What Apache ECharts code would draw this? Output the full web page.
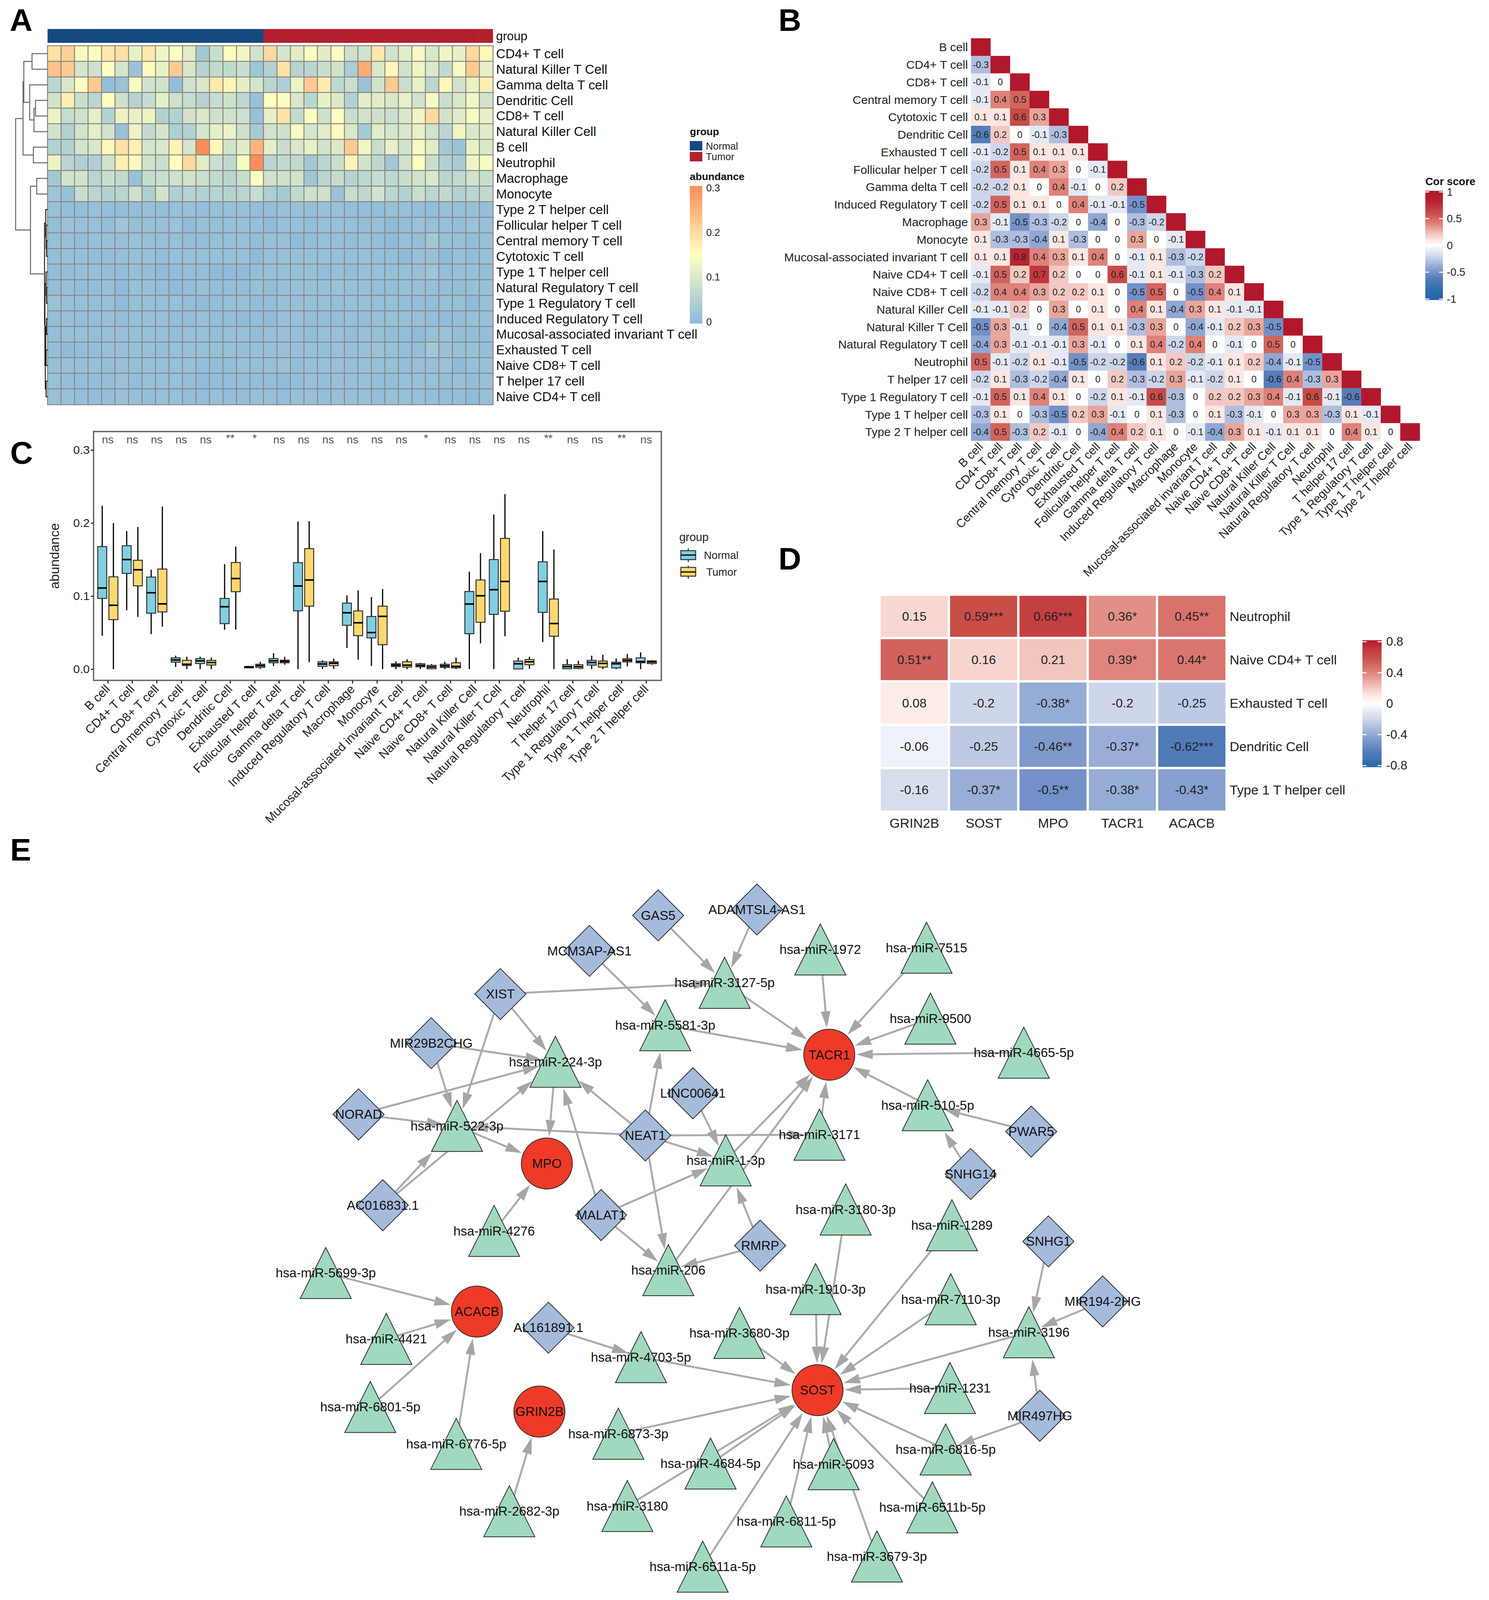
<!DOCTYPE html>
<html><head><meta charset="utf-8">
<style>html,body{margin:0;padding:0;background:#fff;overflow:hidden}#c{width:3812px}</style>
<script src="https://cdn.jsdelivr.net/npm/echarts@6/dist/echarts.min.js"></script>
</head><body><div id="c"></div>
<script>
/* ---------- Panel A data ---------- */
const rowsA = ['CD4+ T cell','Natural Killer T Cell','Gamma delta T cell','Dendritic Cell','CD8+ T cell','Natural Killer Cell','B cell','Neutrophil','Macrophage','Monocyte','Type 2 T helper cell','Follicular helper T cell','Central memory T cell','Cytotoxic T cell','Type 1 T helper cell','Natural Regulatory T cell','Type 1 Regulatory T cell','Induced Regulatory T cell','Mucosal-associated invariant T cell','Exhausted T cell','Naive CD8+ T cell','T helper 17 cell','Naive CD4+ T cell'];
const groupA = [0,0,0,0,0,0,0,0,0,0,0,0,0,0,0,0,1,1,1,1,1,1,1,1,1,1,1,1,1,1,1,1,1];
const abundanceTop = [
[.19,.21,.14,.145,.18,.19,.12,.18,.13,.145,.11,.03,.08,.145,.13,.09,.2,.095,.11,.145,.11,.145,.085,.09,.18,.09,.11,.14,.1,.13,.12,.2,.16],
[.23,.22,.095,.085,.15,.095,.02,.155,.12,.22,.1,.055,.07,.07,.08,.025,.05,.19,.055,.06,.08,.09,.04,.26,.1,.16,.09,.13,.1,.07,.14,.22,.12],
[.06,.1,.15,.22,.01,.02,.14,.09,.09,.01,.09,.1,.18,.165,.115,.095,.06,.045,.125,.22,.175,.065,.08,.02,.09,.22,.08,.12,.06,.16,.09,.12,.17],
[.09,.17,.08,.06,.15,.085,.055,.075,.115,.085,.075,.055,.075,.085,.065,.015,.15,.145,.1,.06,.12,.105,.05,.115,.11,.1,.12,.09,.14,.08,.1,.13,.09],
[.125,.075,.085,.115,.05,.125,.12,.125,.05,.05,.09,.1,.085,.09,.085,.015,.12,.19,.07,.15,.085,.15,.08,.09,.085,.08,.1,.13,.2,.09,.11,.14,.12],
[.09,.05,.09,.115,.09,.015,.125,.07,.095,.045,.05,.095,.115,.125,.085,.035,.09,.085,.14,.095,.11,.145,.1,.035,.11,.095,.1,.12,.09,.06,.13,.1,.11],
[.05,.05,.095,.1,.16,.19,.17,.095,.1,.165,.095,.31,.16,.09,.11,.25,.115,.08,.1,.12,.09,.105,.22,.13,.08,.12,.09,.14,.11,.03,.02,.12,.1],
[.125,.06,.045,.045,.09,.17,.14,.09,.08,.15,.2,.11,.08,.07,.14,.3,.06,.07,.07,.03,.06,.08,.165,.09,.065,.03,.09,.15,.08,.05,.04,.13,.14],
[.03,.09,.09,.06,.08,.07,.015,.075,.08,.085,.09,.08,.07,.06,.08,.15,.09,.085,.09,.025,.06,.075,.055,.065,.075,.065,.08,.09,.1,.06,.07,.09,.08],
[.025,.015,.08,.06,.05,.06,.085,.045,.09,.045,.055,.05,.055,.055,.06,.075,.045,.035,.07,.085,.085,.02,.075,.065,.09,.06,.05,.08,.06,.07,.05,.06,.07]
];
/* lower rows: one digit per sample, in units of 0.005 abundance */
const abundanceLow = [
'322322232332333223323322233223332',
'243325333413333313323332312433243',
'332333433322333233123323213263323',
'233223332333333133333333221331323',
'223322321222111233332323333352332',
'232231332123222323333433223332233',
'433231333321233223333233332223313',
'232232333223221213322232333321233',
'233233333233233233323323322134222',
'212233332333332333332333432263332',
'333323333332223334233333332334133',
'322224233321222221232333223332323',
'332223323322322332332333233322213'
];
const dendroMerges = [ /* height, row1, height1, row2, height2 */
[40,.5,0,1.5,0],[31,3.5,0,4.5,0],[35,4,31,5.5,0],[46,2.5,0,4.75,35],[61,1,40,3.625,46],
[36.5,6.5,0,7.5,0],[63,2.31,61,7,36.5],[28,8.5,0,9.5,0],
[3,12.5,0,13.5,0],[4,11.5,0,13,3],[5,10.5,0,12.25,4],[3,15.5,0,16.5,0],[4,14.5,0,16,3],
[3,17.5,0,18.5,0],[4,19.5,0,20.5,0],[5,18,3,20,4],[4,21.5,0,22.5,0],[6,19,5,22,4],
[7,15.25,4,20.5,6],[8,11.375,5,17.875,7],
[44,9,28,14.625,8],[82,4.66,63,11.81,44]
];
const ticksAbundance = [0,.1,.2,.3];

/* ---------- Panel B data ---------- */
const cells = ['B cell','CD4+ T cell','CD8+ T cell','Central memory T cell','Cytotoxic T cell','Dendritic Cell','Exhausted T cell','Follicular helper T cell','Gamma delta T cell','Induced Regulatory T cell','Macrophage','Monocyte','Mucosal-associated invariant T cell','Naive CD4+ T cell','Naive CD8+ T cell','Natural Killer Cell','Natural Killer T Cell','Natural Regulatory T cell','Neutrophil','T helper 17 cell','Type 1 Regulatory T cell','Type 1 T helper cell','Type 2 T helper cell'];
const corLower = [
[1],
[-.3,1],
[-.1,0,1],
[-.1,.4,.5,1],
[.1,.1,.6,.3,1],
[-.6,.2,0,-.1,-.3,1],
[-.1,-.2,.5,.1,.1,.1,1],
[-.2,.5,.1,.4,.3,0,-.1,1],
[-.2,-.2,.1,0,.4,-.1,0,.2,1],
[-.2,.5,.1,.1,0,.4,-.1,-.1,-.5,1],
[.3,-.1,-.5,-.3,-.2,0,-.4,0,-.3,-.2,1],
[.1,-.3,-.3,-.4,.1,-.3,0,0,.3,0,-.1,1],
[.1,.1,.8,.4,.3,.1,.4,0,-.1,.1,-.3,-.2,1],
[-.1,.5,.2,.7,.2,0,0,.6,-.1,.1,-.1,-.3,.2,1],
[-.2,.4,.4,.3,.2,.2,.1,0,-.5,.5,0,-.5,.4,.1,1],
[-.1,-.1,.2,0,.3,0,.1,0,.4,.1,-.4,.3,.1,-.1,-.1,1],
[-.5,.3,-.1,0,-.4,.5,.1,.1,-.3,.3,0,-.4,-.1,.2,.3,-.5,1],
[-.4,.3,-.1,-.1,-.1,.3,-.1,0,.1,.4,-.2,.4,0,-.1,0,.5,0,1],
[.5,-.1,-.2,.1,-.1,-.5,-.2,-.2,-.6,.1,.2,-.2,-.1,.1,.2,-.4,-.1,-.5,1],
[-.2,.1,-.3,-.2,-.4,.1,0,.2,-.3,-.2,.3,-.1,-.2,.1,0,-.6,.4,-.3,.3,1],
[-.1,.5,.1,.4,.1,0,-.2,.1,-.1,.6,-.3,0,.2,.2,.3,.4,-.1,.6,-.1,-.6,1],
[-.3,.1,0,-.3,-.5,.2,.3,-.1,0,.1,-.3,0,.1,-.3,-.1,0,.3,.3,-.3,.1,-.1,1],
[-.4,.5,-.3,.2,-.1,0,-.4,.4,.2,.1,0,-.1,-.4,.3,.1,-.1,.1,.1,0,.4,.1,0,1]
];
const ticksCor = [-1,-.5,0,.5,1];

/* ---------- Panel C data: [min, Q1, median, Q3, max] ---------- */
const boxNormal = [
[.0458,.0967,.111,.1677,.2237],[.0805,.131,.15,.169,.189],[.048,.0766,.1045,.126,.136],[.003,.0095,.0125,.0154,.0184],[0,.0076,.0113,.0144,.017],
[.054,.0622,.0854,.0967,.1437],[.001,.0017,.0027,.0037,.0042],[.0042,.0086,.0113,.0144,.0218],[0,.0798,.1138,.1457,.202],[0,.0037,.007,.01,.012],
[.029,.06,.0771,.0903,.1009],[.0042,.0428,.05,.072,.0987],[0,.0034,.0054,.0073,.0105],[0,.0032,.005,.0073,.0086],[0,.0022,.0044,.0066,.01],
[0,.0485,.0891,.1062,.1334],[0,.0749,.1087,.15,.2117],[0,.0002,.0073,.011,.0157],[.037,.0776,.12,.1469,.189],[0,.0005,.0034,.0061,.0135],
[0,.0054,.009,.012,.0184],[0,.0015,.0073,.0095,.0144],[0,.0086,.0103,.0154,.0228]];
const boxTumor = [
[0,.0678,.0874,.1263,.2],[.0715,.114,.136,.149,.1946],[.058,.0783,.0893,.137,.2225],[0,.005,.0066,.012,.017],[0,.0056,.009,.012,.016],
[.054,.106,.124,.146,.1677],[.0002,.0024,.0047,.0066,.01],[.006,.0086,.0105,.0122,.0169],[.0095,.0862,.122,.165,.2027],[.0002,.0047,.008,.01,.0144],
[.013,.0458,.0634,.0796,.1077],[0,.0335,.0722,.0862,.1097],[0,.0027,.0054,.01,.0135],[0,.0005,.0029,.0051,.0069],[0,.0017,.0037,.0086,.0157],
[.0352,.0641,.1004,.122,.1586],[.045,.0793,.12,.179,.2396],[.0002,.0059,.01,.0132,.0169],[0,.045,.0624,.096,.1638],[0,.0007,.0032,.0061,.0115],
[0,.0027,.0078,.011,.0196],[.0037,.0098,.012,.0142,.0208],[.0061,.0076,.0098,.0113,.0122]];
const sigC = ['ns','ns','ns','ns','ns','**','*','ns','ns','ns','ns','ns','ns','*','ns','ns','ns','ns','**','ns','ns','**','ns'];
const ticksC = [0,.1,.2,.3];

/* ---------- Panel D data ---------- */
const genesD = ['GRIN2B','SOST','MPO','TACR1','ACACB'];
const rowsD = ['Neutrophil','Naive CD4+ T cell','Exhausted T cell','Dendritic Cell','Type 1 T helper cell'];
const corD = [[.15,.59,.66,.36,.45],[.51,.16,.21,.39,.44],[.08,-.2,-.38,-.2,-.25],[-.06,-.25,-.46,-.37,-.62],[-.16,-.37,-.5,-.38,-.43]];
const starsD = [['','***','***','*','**'],['**','','','*','*'],['','','*','',''],['','','**','*','***'],['','*','**','*','*']];
const ticksD = [-.8,-.4,0,.4,.8];

/* ---------- Panel E data ---------- */
const nodeNames = ['TACR1','MPO','ACACB','GRIN2B','SOST',
'hsa-miR-3127-5p','hsa-miR-1972','hsa-miR-7515','hsa-miR-5581-3p','hsa-miR-9500','hsa-miR-4665-5p','hsa-miR-224-3p','hsa-miR-510-5p','hsa-miR-522-3p','hsa-miR-3171','hsa-miR-1-3p','hsa-miR-4276','hsa-miR-3180-3p','hsa-miR-1289','hsa-miR-206','hsa-miR-5699-3p','hsa-miR-1910-3p','hsa-miR-7110-3p','hsa-miR-3196','hsa-miR-3680-3p','hsa-miR-4421','hsa-miR-4703-5p','hsa-miR-1231','hsa-miR-6801-5p','hsa-miR-6776-5p','hsa-miR-6873-3p','hsa-miR-6816-5p','hsa-miR-4684-5p','hsa-miR-5093','hsa-miR-3180','hsa-miR-2682-3p','hsa-miR-6511b-5p','hsa-miR-6811-5p','hsa-miR-3679-3p','hsa-miR-6511a-5p',
'GAS5','ADAMTSL4-AS1','MCM3AP-AS1','XIST','MIR29B2CHG','NORAD','LINC00641','NEAT1','PWAR5','AC016831.1','MALAT1','SNHG14','RMRP','SNHG1','MIR194-2HG','AL161891.1','MIR497HG'];
const nodeKinds = ['gene','gene','gene','gene','gene',
'mi','mi','mi','mi','mi','mi','mi','mi','mi','mi','mi','mi','mi','mi','mi','mi','mi','mi','mi','mi','mi','mi','mi','mi','mi','mi','mi','mi','mi','mi','mi','mi','mi','mi','mi',
'lnc','lnc','lnc','lnc','lnc','lnc','lnc','lnc','lnc','lnc','lnc','lnc','lnc','lnc','lnc','lnc','lnc'];
const nodeX = [2123,1400,1221,1381,2093,
1855,2100,2372,1703,2382,2621,1422,2375,1170,2098,1858,1265,2165,2437,1711,834,2088,2434,2634,1893,989,1641,2432,948,1168,1583,2421,1819,2134,1606,1304,2387,2013,2245,1799,
1685,1938,1509,1281,1104,918,1774,1652,2640,980,1539,2485,1946,2684,2823,1404,2662];
const nodeY = [3006,3316,3738,4023,3962,
2801,2706,2701,2922,2903,3000,3026,3150,3209,3234,3307,3508,3447,3492,3620,3628,3674,3703,3797,3799,3816,3868,3956,4010,4115,4086,4131,4171,4173,4292,4307,4296,4336,4436,4465,
2609,2592,2710,2833,2973,3176,3116,3236,3225,3435,3463,3346,3550,3538,3709,3784,4035];
const edgeFrom = ['GAS5','ADAMTSL4-AS1','MCM3AP-AS1','XIST','XIST','XIST','MIR29B2CHG','MIR29B2CHG','NORAD','NORAD','AC016831.1','AC016831.1','NEAT1','NEAT1','NEAT1','NEAT1','NEAT1','NEAT1','hsa-miR-224-3p','hsa-miR-522-3p','hsa-miR-4276','MALAT1','MALAT1','MALAT1','LINC00641','RMRP','RMRP','hsa-miR-206','hsa-miR-1-3p','hsa-miR-5581-3p','hsa-miR-3127-5p','hsa-miR-1972','hsa-miR-7515','hsa-miR-9500','hsa-miR-4665-5p','hsa-miR-510-5p','hsa-miR-3171','PWAR5','SNHG14','hsa-miR-3180-3p','hsa-miR-1910-3p','hsa-miR-1289','hsa-miR-7110-3p','hsa-miR-3196','hsa-miR-1231','hsa-miR-6816-5p','hsa-miR-6511b-5p','hsa-miR-3679-3p','hsa-miR-5093','hsa-miR-6811-5p','hsa-miR-6511a-5p','hsa-miR-4684-5p','hsa-miR-3180','hsa-miR-6873-3p','hsa-miR-4703-5p','hsa-miR-3680-3p','SNHG1','MIR194-2HG','MIR497HG','MIR497HG','AL161891.1','hsa-miR-5699-3p','hsa-miR-4421','hsa-miR-6801-5p','hsa-miR-6776-5p','hsa-miR-2682-3p'];
const edgeTo = ['hsa-miR-3127-5p','hsa-miR-3127-5p','hsa-miR-5581-3p','hsa-miR-3127-5p','hsa-miR-224-3p','hsa-miR-522-3p','hsa-miR-224-3p','hsa-miR-522-3p','hsa-miR-224-3p','hsa-miR-522-3p','hsa-miR-522-3p','hsa-miR-224-3p','hsa-miR-224-3p','hsa-miR-522-3p','hsa-miR-5581-3p','hsa-miR-1-3p','hsa-miR-206','hsa-miR-3171','MPO','MPO','MPO','hsa-miR-224-3p','hsa-miR-1-3p','hsa-miR-206','hsa-miR-1-3p','hsa-miR-1-3p','hsa-miR-206','TACR1','TACR1','TACR1','TACR1','TACR1','TACR1','TACR1','TACR1','TACR1','TACR1','hsa-miR-510-5p','hsa-miR-510-5p','SOST','SOST','SOST','SOST','SOST','SOST','SOST','SOST','SOST','SOST','SOST','SOST','SOST','SOST','SOST','SOST','SOST','hsa-miR-3196','hsa-miR-3196','hsa-miR-3196','hsa-miR-6816-5p','hsa-miR-4703-5p','ACACB','ACACB','ACACB','ACACB','GRIN2B'];

/* ---------- Page fit: the real window may be shorter than the 4560 design height ---------- */
const DESIGN_H = 4560;
const K = Math.min(1, (window.innerHeight || DESIGN_H) / DESIGN_H);
const FS = Math.sqrt(K);
const F = s => Math.round(s * FS * 10) / 10;
document.getElementById('c').style.height = (DESIGN_H * K) + 'px';

/* ---------- Colours and fonts ---------- */
const FONT = '"Liberation Sans", Arial, sans-serif';
const INK = '#111';
const corColors = ['#2166AC','#2869AD','#326EAF','#4175B4','#557DB9','#7391C8','#8FA7D2','#AFBEDE','#CDD6EA','#E4E9F4','#FFFFFF','#FCE6E1','#F3C8C2','#E9A59B','#DE827A','#D2645E','#C84B46','#C1373C','#B92332','#B51C2E','#B2182B'];
const abunColors = ['#8BBADC','#FFFFBF','#FC8D59'];
const kindStyle = {gene:{symbol:'circle',color:'#EF3A28'}, mi:{symbol:'triangle',color:'#A0D9BF'}, lnc:{symbol:'diamond',color:'#A5BBDC'}};
const NODE = 138 * FS;

const grid=[], xAxis=[], yAxis=[], series=[], visualMap=[];
function addGrid(g,x,y){ grid.push({left:g.left,width:g.width,top:g.top*K,height:g.height*K}); xAxis.push(Object.assign({gridIndex:grid.length-1},x)); yAxis.push(Object.assign({gridIndex:grid.length-1},y)); return grid.length-1; }
const hiddenVal = (min,max,extra)=>Object.assign({type:'value',min,max,show:false,splitLine:{show:false}},extra||{});
const catAxis = (data,extra)=>Object.assign({type:'category',data,axisLine:{show:false,onZero:false},axisTick:{show:false},splitLine:{show:false},axisLabel:{interval:0,color:INK,fontFamily:FONT}},extra||{});

function colorBar(g,lo,hi,colors,ticks,fontSize,labelMargin){
  const idx = addGrid(g, hiddenVal(0,1), {type:'value',min:g.vmin,max:g.vmax,position:'right',axisLine:{show:false},axisTick:{show:false},splitLine:{show:false},
    axisLabel:{show:true,fontSize:F(fontSize),color:'#222',fontFamily:FONT,margin:labelMargin,customValues:g.labelValues,formatter:v=>String(+v.toFixed(2))}});
  series.push({type:'custom',xAxisIndex:idx,yAxisIndex:idx,silent:true,data:[[lo,hi]],encode:{y:[0,1]},
    renderItem(p,api){
      const a=api.coord([0,api.value(1)]), b=api.coord([1,api.value(0)]);
      const stops=colors.map((c,i)=>({offset:1-i/(colors.length-1),color:c})).reverse();
      const kids=[{type:'rect',shape:{x:a[0],y:a[1],width:b[0]-a[0],height:b[1]-a[1]},style:{fill:new echarts.graphic.LinearGradient(0,0,0,1,stops)}}];
      ticks.forEach(t=>{const y=api.coord([0,t])[1],w=(b[0]-a[0])*.22;
        kids.push({type:'line',shape:{x1:a[0],y1:y,x2:a[0]+w,y2:y},style:{stroke:'#fff',lineWidth:2.5}});
        kids.push({type:'line',shape:{x1:b[0]-w,y1:y,x2:b[0],y2:y},style:{stroke:'#fff',lineWidth:2.5}});});
      return {type:'group',children:kids};
    }});
}

/* ---- A: heatmap ---- */
const gA = addGrid({left:122,top:130.6,width:1140,height:1022.4},
  catAxis(groupA.map((_,i)=>'S'+(i+1)),{axisLabel:{show:false}}),
  catAxis(rowsA,{inverse:true,position:'right',axisLabel:{interval:0,color:INK,fontFamily:FONT,fontSize:F(35),margin:8}}));
const abundanceRows = abundanceTop.concat(abundanceLow.map(s=>s.split('').map(d=>+d*0.005)));
series.push({type:'heatmap',xAxisIndex:gA,yAxisIndex:gA,progressive:0,silent:true,
  itemStyle:{borderColor:'#8A8683',borderWidth:2.5},
  data:abundanceRows.flatMap((r,y)=>r.map((v,x)=>[x,y,v]))});
visualMap.push({show:false,type:'continuous',seriesIndex:series.length-1,dimension:2,min:0,max:.3,inRange:{color:abunColors}});

const gGroup = addGrid({left:122,top:83,width:1140,height:39},
  catAxis(groupA.map((_,i)=>'S'+(i+1)),{axisLabel:{show:false}}),
  catAxis(['group'],{position:'right',axisLabel:{interval:0,color:INK,fontFamily:FONT,fontSize:F(33),margin:8}}));
series.push({type:'heatmap',xAxisIndex:gGroup,yAxisIndex:gGroup,progressive:0,silent:true,data:groupA.map((g,x)=>[x,0,g])});
visualMap.push({show:false,type:'piecewise',seriesIndex:series.length-1,dimension:2,pieces:[{value:0,color:'#134A80'},{value:1,color:'#B21F2D'}]});

const gDen = addGrid({left:22,top:130.6,width:100,height:1022.4}, hiddenVal(0,100,{inverse:true}), hiddenVal(0,23,{inverse:true}));
series.push({type:'custom',xAxisIndex:gDen,yAxisIndex:gDen,silent:true,data:dendroMerges,encode:{x:[0,2,4],y:[1,3]},
  renderItem(p,api){
    const H=api.value(0),y1=api.value(1),h1=api.value(2),y2=api.value(3),h2=api.value(4);
    const pts=[[h1,y1],[H,y1],[H,y2],[h2,y2]].map(q=>api.coord(q));
    return {type:'polyline',shape:{points:pts},style:{stroke:H<10?'#222':'#666',lineWidth:2.5,fill:null}};
  }});
colorBar({left:1766,top:535,width:32,height:382,vmin:0,vmax:.3,labelValues:ticksAbundance},-.004,.304,abunColors,[],27,10);

/* ---- B: correlation triangle ---- */
const gB = addGrid({left:2486,top:109.5,width:1149,height:1146.5},
  catAxis(cells,{axisLabel:{interval:0,rotate:45,color:'#222',fontFamily:FONT,fontSize:F(32),margin:10}}),
  catAxis(cells,{inverse:true,axisLabel:{interval:0,color:'#222',fontFamily:FONT,fontSize:F(32),margin:8}}));
series.push({type:'heatmap',xAxisIndex:gB,yAxisIndex:gB,progressive:0,silent:true,
  label:{show:true,fontSize:F(25),color:'#222',fontFamily:FONT,formatter:p=>p.value[0]===p.value[1]?'':String(p.value[2])},
  data:corLower.flatMap((r,y)=>r.map((v,x)=>[x,y,v]))});
visualMap.push({show:false,type:'continuous',seriesIndex:series.length-1,dimension:2,min:-1,max:1,inRange:{color:corColors}});
colorBar({left:3649,top:547,width:45,height:305,vmin:-1,vmax:1,labelValues:ticksCor},-1.02,1.02,corColors,ticksCor,29,10);

/* ---- C: boxes ---- */
const gC = addGrid({left:244.7,top:1230,width:1441,height:709},
  catAxis(cells,{axisLine:{show:false,onZero:false},axisTick:{show:true,alignWithLabel:true,length:8,lineStyle:{color:'#333',width:3}},
    axisLabel:{interval:0,rotate:45,color:'#222',fontFamily:FONT,fontSize:F(33),margin:17}}),
  {type:'value',min:-.0154,max:.3252,offset:5,splitLine:{show:false},axisLine:{show:false},
   axisTick:{show:true,length:7,lineStyle:{color:'#333',width:3},customValues:ticksC},
   axisLabel:{color:'#222',fontFamily:FONT,fontSize:F(32),margin:10,customValues:ticksC,formatter:v=>v.toFixed(1)},
   name:'abundance',nameLocation:'middle',nameGap:84,nameTextStyle:{fontSize:F(36),color:'#222',fontFamily:FONT}});
function boxSeries(data,fill,off){
  series.push({type:'custom',xAxisIndex:gC,yAxisIndex:gC,silent:true,clip:false,
    data:data.map((b,i)=>[i].concat(b)),encode:{x:0,y:[1,2,3,4,5]},
    renderItem(p,api){
      const x=api.coord([api.value(0),0])[0]+off, w=23;
      const yy=[1,2,3,4,5].map(i=>api.coord([0,api.value(i)])[1]);
      return {type:'group',children:[
        {type:'line',shape:{x1:x,y1:yy[0],x2:x,y2:yy[4]},style:{stroke:'#000',lineWidth:3}},
        {type:'rect',shape:{x:x-w/2,y:yy[3],width:w,height:yy[1]-yy[3]},style:{fill,stroke:'#333',lineWidth:2.5}},
        {type:'line',shape:{x1:x-w/2,y1:yy[2],x2:x+w/2,y2:yy[2]},style:{stroke:'#000',lineWidth:4}}
      ]};
    }});
}
boxSeries(boxNormal,'#7FCFE0',-14.3);
boxSeries(boxTumor,'#FED86E',14.3);
series.push({type:'scatter',xAxisIndex:gC,yAxisIndex:gC,silent:true,clip:false,symbolSize:0,
  data:sigC.map((s,i)=>[i,s==='ns'?.3145:.3165,s]),
  label:{show:true,position:'inside',fontSize:F(30),color:'#222',fontFamily:FONT,formatter:p=>p.value[2]}});

/* ---- D: gene correlation ---- */
const gD = addGrid({left:2252,top:1695,width:888,height:618},
  catAxis(genesD,{axisLabel:{interval:0,color:'#222',fontFamily:FONT,fontSize:F(36),margin:12}}),
  catAxis(rowsD,{inverse:true,position:'right',axisLabel:{interval:0,color:'#222',fontFamily:FONT,fontSize:F(36),margin:8}}));
series.push({type:'heatmap',xAxisIndex:gD,yAxisIndex:gD,progressive:0,silent:true,itemStyle:{borderColor:'#fff',borderWidth:6},
  label:{show:true,fontSize:F(34),color:'#222',fontFamily:FONT,formatter:p=>p.value[2]+starsD[p.value[1]][p.value[0]]},
  data:corD.flatMap((r,y)=>r.map((v,x)=>[x,y,v]))});
visualMap.push({show:false,type:'continuous',seriesIndex:series.length-1,dimension:2,min:-1,max:1,inRange:{color:corColors}});
const corColorsD = ['#2166AC'].concat(corColors.slice(3,18),['#B2182B']);
colorBar({left:3488,top:1829,width:49,height:353,vmin:-.8,vmax:.8,labelValues:ticksD},-.82,.82,corColorsD,ticksD,33,12);

/* ---- E: network ---- */
const gE = addGrid({left:600,top:2440,width:2500,height:2100}, hiddenVal(600,3100), hiddenVal(2440,4540,{inverse:true}));
function borderDist(kind,dx,dy){
  const r=NODE/2, len=Math.hypot(dx,dy), ux=dx/len, uy=dy/len;
  if(kind==='gene') return r;
  if(kind==='lnc') return r/(Math.abs(ux)+Math.abs(uy));
  const poly=[[0,-r],[r,r],[-r,r]]; let best=1e9;
  poly.forEach((a,i)=>{const b=poly[(i+1)%3],ex=b[0]-a[0],ey=b[1]-a[1],det=ux*(-ey)+ex*uy;
    if(Math.abs(det)<1e-9) return;
    const t=(a[0]*(-ey)+ex*a[1])/det, s=(ux*a[1]-uy*a[0])/det;
    if(t>0&&s>=-1e-6&&s<=1+1e-6&&t<best) best=t;});
  return best;
}
const edgeData = edgeFrom.map((f,i)=>{
  const a=nodeNames.indexOf(f), b=nodeNames.indexOf(edgeTo[i]);
  return [nodeX[a],nodeY[a],nodeX[b],nodeY[b],b];
});
series.push({type:'custom',xAxisIndex:gE,yAxisIndex:gE,silent:true,clip:false,z:2,data:edgeData,encode:{x:[0,2],y:[1,3]},
  renderItem(p,api){
    const s=api.coord([api.value(0),api.value(1)]), t=api.coord([api.value(2),api.value(3)]);
    const dx=s[0]-t[0], dy=s[1]-t[1], len=Math.hypot(dx,dy), ux=dx/len, uy=dy/len;
    const gap=borderDist(nodeKinds[api.value(4)],dx,dy)+4, L=42, W=12.5;
    const tip=[t[0]+ux*gap,t[1]+uy*gap], base=[tip[0]+ux*L,tip[1]+uy*L];
    return {type:'group',children:[
      {type:'line',shape:{x1:s[0],y1:s[1],x2:base[0],y2:base[1]},style:{stroke:'#ABABAB',lineWidth:5}},
      {type:'polygon',shape:{points:[tip,[base[0]-uy*W,base[1]+ux*W],[base[0]+uy*W,base[1]-ux*W]]},style:{fill:'#A6A6A6'}}
    ]};
  }});
['lnc','mi','gene'].forEach(kind=>{
  series.push({type:'scatter',xAxisIndex:gE,yAxisIndex:gE,silent:true,clip:false,z:3,
    symbol:kindStyle[kind].symbol,symbolSize:NODE,
    itemStyle:{color:kindStyle[kind].color,borderColor:'#2B2B2B',borderWidth:2,opacity:1},
    label:{show:true,position:'inside',fontSize:F(35),color:'#111',fontFamily:FONT,formatter:p=>p.value[2]},
    data:nodeNames.map((n,i)=>[nodeX[i],nodeY[i],n,nodeKinds[i]]).filter(d=>d[3]===kind)});
});

/* ---- page furniture ---- */
const letter=(t,x,y)=>({type:'text',x,y:y*K,style:{text:t,fontSize:F(85),fontWeight:'bold',fontFamily:'"Liberation Sans"',fill:'#000',textVerticalAlign:'middle',verticalAlign:'middle'}});
const txt=(t,x,y,size,bold,fill)=>({type:'text',x,y:y*K,style:{text:t,fontSize:F(size),fontWeight:bold?'bold':'normal',fontFamily:'"Liberation Sans"',fill:fill||'#222',textVerticalAlign:'middle',verticalAlign:'middle'}});
const rect=(x,y,w,h,fill,stroke,lw)=>({type:'rect',shape:{x,y:y*K,width:w,height:h*K},style:{fill:fill||'none',stroke:stroke||null,lineWidth:lw||0}});
const vline=(x,y1,y2,lw,c)=>({type:'line',shape:{x1:x,y1:y1*K,x2:x,y2:y2*K},style:{stroke:c||'#222',lineWidth:lw}});
const hline=(x1,x2,y,lw,c)=>({type:'line',shape:{x1,y1:y*K,x2,y2:y*K},style:{stroke:c||'#222',lineWidth:lw}});
const graphic=[
 letter('A',25,57),letter('B',1993,57),letter('C',26,1290),letter('D',1993,1592),letter('E',26,2421),
 txt('group',1766,375,28,true,'#111'),
 rect(1766,402,32,27,'#134A80'),rect(1766,433,32,27,'#B21F2D'),
 txt('Normal',1807,416,27,false),txt('Tumor',1807,446,27,false),
 txt('abundance',1766,503,28,true,'#111'),
 txt('Cor score',3649,517,29,true,'#111'),
 rect(239.5,1230,1453.5,709,null,'#666',3.5),
 txt('group',1739,1530,31,false),
 vline(1762,1563,1602,2.5),rect(1743,1569.5,38,25.5,'#7FCFE0','#333',2.5),hline(1743,1781,1582,3,'#000'),
 vline(1762,1612,1649,2.5),rect(1743,1617,38,25,'#FED86E','#333',2.5),hline(1743,1781,1630,3,'#000'),
 txt('Normal',1802,1582,29,false),txt('Tumor',1808,1630,29,false)
];

const chart = echarts.init(document.getElementById('c'),null,{renderer:'svg',width:3812,height:DESIGN_H*K});
chart.setOption({animation:false,backgroundColor:'#fff',textStyle:{fontFamily:FONT},grid,xAxis,yAxis,visualMap,series,graphic});
</script></body></html>
